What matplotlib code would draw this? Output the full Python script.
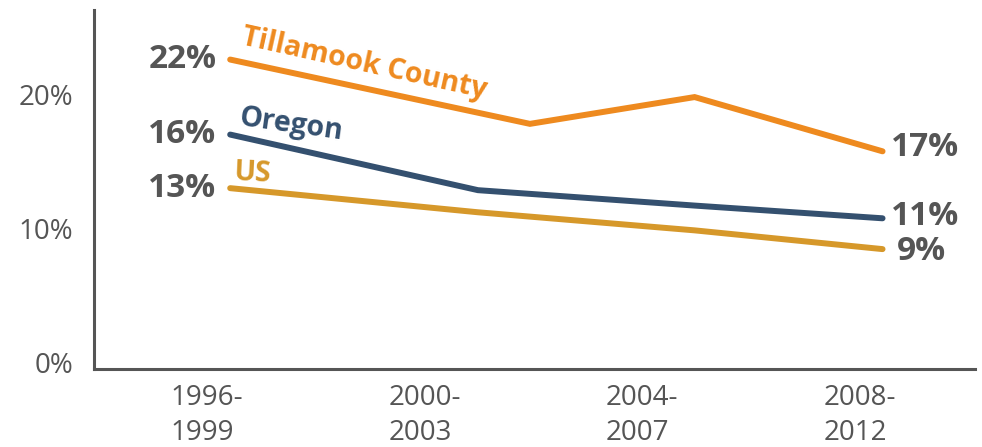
import matplotlib
matplotlib.use("Agg")
import matplotlib.pyplot as plt

# ---- data ----
periods = ["1996-\n1999", "2000-\n2003", "2004-\n2007", "2008-\n2012"]
tillamook_x = [0.106, 1.484, 2.241, 3.105]
tillamook_y = [22.6, 17.8, 19.8, 15.75]
oregon_x = [0.106, 1.245, 2.241, 3.105]
oregon_y = [17.0, 12.85, 11.7, 10.75]
us_x = [0.106, 1.245, 2.241, 3.105]
us_y = [13.0, 11.2, 9.85, 8.45]
start_labels = ["22%", "16%", "13%"]
end_labels = ["17%", "11%", "9%"]
yticks = [0, 10, 20]
ytick_labels = ["0%", "10%", "20%"]

c_till = "#EE8A1F"
c_or = "#34506F"
c_us = "#D6982A"
gray = "#555555"

plt.rcParams['font.family'] = ['Open Sans', 'DejaVu Sans']

fig = plt.figure(figsize=(9.82, 4.47), dpi=100)
ax = fig.add_axes([94/982, 1-369/447, (975-94)/982, (369-10)/447])

for xs, ys, c in [(tillamook_x, tillamook_y, c_till), (oregon_x, oregon_y, c_or), (us_x, us_y, c_us)]:
    ax.plot(xs, ys, color=c, lw=4.3, solid_capstyle='round', solid_joinstyle='miter')

ax.set_xlim(-0.52, 3.53)
ax.set_ylim(-0.5, 26.3)

ax.set_xticks(range(len(periods)))
ax.set_xticklabels(periods, fontsize=20, color=gray, fontweight='normal',
                   linespacing=1.32, multialignment='left')
ax.set_yticks(yticks)
ax.set_yticklabels(ytick_labels, fontsize=20, color=gray, fontweight='normal')
ax.tick_params(axis='x', length=0, pad=11)
ax.tick_params(axis='y', length=0, pad=15)

for s in ['top', 'right']:
    ax.spines[s].set_visible(False)
for s in ['left', 'bottom']:
    ax.spines[s].set_color(gray)
    ax.spines[s].set_linewidth(2.2)

# start value labels
for xs, ys, lab in zip([tillamook_x, oregon_x, us_x], [tillamook_y, oregon_y, us_y], start_labels):
    ax.annotate(lab, (xs[0], ys[0]), xytext=(-10, 0), textcoords='offset points',
                ha='right', va='center', fontsize=24, fontweight='bold', color=gray)
# end value labels
end_offsets = [(6, 3), (6, 1), (10, -2)]
for xs, ys, lab, off in zip([tillamook_x, oregon_x, us_x], [tillamook_y, oregon_y, us_y], end_labels, end_offsets):
    ax.annotate(lab, (xs[-1], ys[-1]), xytext=off, textcoords='offset points',
                ha='left', va='center', fontsize=24, fontweight='bold', color=gray)

# series name labels
ax.annotate("Tillamook County", (tillamook_x[0], tillamook_y[0]), xytext=(6, 6),
            textcoords='offset points', ha='left', va='bottom', rotation=-12.5,
            rotation_mode='anchor', fontsize=20.5, fontweight='bold', color=c_till)
ax.annotate("Oregon", (oregon_x[0], oregon_y[0]), xytext=(5, 2),
            textcoords='offset points', ha='left', va='bottom', rotation=-8,
            rotation_mode='anchor', fontsize=20.5, fontweight='bold', color=c_or)
ax.annotate("US", (us_x[0], us_y[0]), xytext=(2, 1),
            textcoords='offset points', ha='left', va='bottom', rotation=-3,
            rotation_mode='anchor', fontsize=20.5, fontweight='bold', color=c_us)

fig.savefig("out.png", dpi=100)
